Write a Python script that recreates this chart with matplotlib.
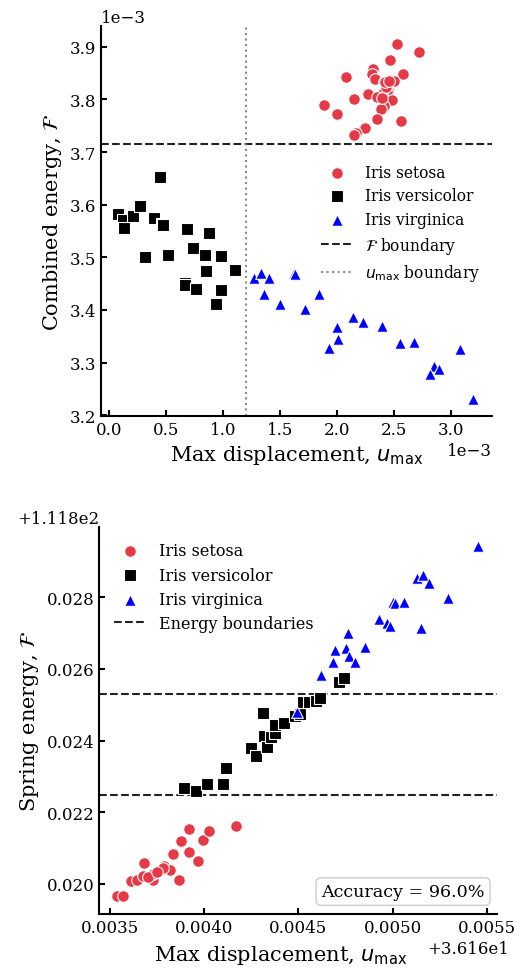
import numpy as np
import matplotlib.pyplot as plt

plt.rcParams['font.family'] = 'serif'
plt.rcParams['font.serif'] = ['DejaVu Serif']

# top panel: max displacement vs combined energy (both in units of 1e-3)
setosa_u = [2.525, 2.724, 2.467, 2.578, 2.315, 2.306, 2.077, 2.335, 2.414, 2.502,
            2.452, 2.440, 2.276, 2.399, 2.355, 2.481, 2.150, 1.889, 2.414, 2.385,
            2.004, 2.350, 2.561, 2.247, 2.165, 2.150, 2.430, 2.420, 2.395, 2.460]
setosa_f = [3.906, 3.891, 3.875, 3.849, 3.857, 3.849, 3.843, 3.839, 3.834, 3.836,
            3.818, 3.814, 3.811, 3.811, 3.805, 3.798, 3.800, 3.790, 3.788, 3.782,
            3.772, 3.763, 3.759, 3.746, 3.737, 3.733, 3.823, 3.834, 3.802, 3.836]
versi_u = [0.447, 0.074, 0.123, 0.132, 0.205, 0.270, 0.396, 0.460, 0.469, 0.314,
           0.516, 0.686, 0.879, 0.733, 0.844, 0.979, 0.850, 1.102, 0.665, 0.665,
           0.762, 0.979, 0.935]
versi_f = [3.653, 3.583, 3.570, 3.555, 3.578, 3.597, 3.575, 3.564, 3.561, 3.500,
           3.504, 3.553, 3.546, 3.517, 3.505, 3.503, 3.474, 3.475, 3.452, 3.447,
           3.440, 3.438, 3.412]
virg_u = [1.272, 1.333, 1.403, 1.623, 1.630, 1.359, 1.500, 1.845, 1.720, 2.144,
          2.232, 1.998, 2.396, 2.012, 1.933, 2.557, 2.680, 3.082, 2.853, 2.894,
          2.818, 3.199]
virg_f = [3.461, 3.471, 3.460, 3.471, 3.469, 3.430, 3.412, 3.430, 3.402, 3.387,
          3.378, 3.368, 3.370, 3.345, 3.327, 3.337, 3.340, 3.325, 3.293, 3.287,
          3.278, 3.231]
f_boundary = 3.716
u_boundary = 1.2

# bottom panel: offsets from 36.16 (displacement) and 111.8 (spring energy)
u_offset = 36.16
f_offset = 111.8
b_setosa_u = [0.003536, 0.003567, 0.003611, 0.003642, 0.003674, 0.003682, 0.003727,
              0.003730, 0.003762, 0.003788, 0.003818, 0.003866, 0.003833, 0.003875,
              0.003877, 0.003919, 0.003919, 0.003969, 0.003992, 0.004025, 0.004169,
              0.003700, 0.003780, 0.003750]
b_setosa_f = [0.019657, 0.019674, 0.020075, 0.020112, 0.020215, 0.020586, 0.020120,
              0.020279, 0.020371, 0.020510, 0.020399, 0.020120, 0.020837, 0.021163,
              0.021208, 0.021534, 0.020884, 0.020650, 0.021236, 0.021470, 0.021626,
              0.020187, 0.020450, 0.020330]
b_versi_u = [0.003894, 0.003955, 0.004013, 0.004101, 0.004116, 0.004247, 0.004275,
             0.004314, 0.004319, 0.004335, 0.004353, 0.004377, 0.004377, 0.004424,
             0.004480, 0.004508, 0.004526, 0.004558, 0.004593, 0.004615, 0.004716,
             0.004744]
b_versi_f = [0.022669, 0.022602, 0.022789, 0.022789, 0.023235, 0.023785, 0.023562,
             0.024761, 0.024136, 0.023813, 0.024091, 0.024203, 0.024435, 0.024490,
             0.024677, 0.024741, 0.025067, 0.025085, 0.025112, 0.025188, 0.025642,
             0.025736]
b_virg_u = [0.005455, 0.005131, 0.005163, 0.005193, 0.005296, 0.005004, 0.005014,
            0.005061, 0.004928, 0.004972, 0.004986, 0.005151, 0.004765, 0.004694,
            0.004753, 0.004855, 0.004682, 0.004770, 0.004800, 0.004622, 0.004491]
b_virg_f = [0.029435, 0.028534, 0.028618, 0.028386, 0.027968, 0.027857, 0.027850,
            0.027874, 0.027391, 0.027280, 0.027187, 0.027140, 0.026992, 0.026535,
            0.026574, 0.026618, 0.026200, 0.026350, 0.026183, 0.025837, 0.024806]
energy_bounds = [0.025303, 0.022491]
accuracy = 96.0

red = '#e63946'
blue = '#0000ff'
kw = dict(edgecolor='white', linewidths=0.8, zorder=3)

fig = plt.figure(figsize=(5.21, 9.7), dpi=100)
ax1 = fig.add_axes([0.1933, 0.5704, 0.7516, 0.402])
ax2 = fig.add_axes([0.1906, 0.0567, 0.7628, 0.3987])

# --- top panel ---
ax1.scatter(np.array(setosa_u) * 1e-3, np.array(setosa_f) * 1e-3, s=70, marker='o',
            color=red, label='Iris setosa', **kw)
ax1.scatter(np.array(versi_u) * 1e-3, np.array(versi_f) * 1e-3, s=70, marker='s',
            color='black', label='Iris versicolor', **kw)
ax1.scatter(np.array(virg_u) * 1e-3, np.array(virg_f) * 1e-3, s=70, marker='^',
            color=blue, label='Iris virginica', **kw)
ax1.axhline(f_boundary * 1e-3, color='#222222', ls='--', lw=1.5, label=r'$\mathcal{F}$ boundary')
ax1.axvline(u_boundary * 1e-3, color='#888888', ls=':', lw=1.5, label=r'$u_{\max}$ boundary')
ax1.set_xlim(-0.076e-3, 3.366e-3)
ax1.set_ylim(3.199e-3, 3.940e-3)
ax1.set_xticks(np.arange(0, 3.01e-3, 0.5e-3))
ax1.set_yticks(np.arange(3.2e-3, 3.91e-3, 0.1e-3))
ax1.ticklabel_format(style='sci', scilimits=(0, 0))
ax1.set_xlabel(r'Max displacement, $u_{\max}$', fontsize=15)
ax1.set_ylabel(r'Combined energy, $\mathcal{F}$', fontsize=15)
ax1.legend(loc='center right', bbox_to_anchor=(1.005, 0.493), frameon=False, fontsize=11.2,
           labelspacing=0.42)

# --- bottom panel ---
ax2.scatter(np.array(b_setosa_u) + u_offset, np.array(b_setosa_f) + f_offset, s=70,
            marker='o', color=red, label='Iris setosa', **kw)
ax2.scatter(np.array(b_versi_u) + u_offset, np.array(b_versi_f) + f_offset, s=70,
            marker='s', color='black', label='Iris versicolor', **kw)
ax2.scatter(np.array(b_virg_u) + u_offset, np.array(b_virg_f) + f_offset, s=70,
            marker='^', color=blue, label='Iris virginica', **kw)
for i, b in enumerate(energy_bounds):
    ax2.axhline(b + f_offset, color='#222222', ls='--', lw=1.5,
                label='Energy boundaries' if i == 0 else None)
ax2.set_xlim(u_offset + 0.003443, u_offset + 0.005553)
ax2.set_ylim(f_offset + 0.01916, f_offset + 0.02995)
ax2.set_xticks(u_offset + np.array([0.0035, 0.0040, 0.0045, 0.0050, 0.0055]))
ax2.set_yticks(f_offset + np.array([0.020, 0.022, 0.024, 0.026, 0.028]))
ax2.xaxis.get_major_formatter().set_useOffset(u_offset)
ax2.yaxis.get_major_formatter().set_useOffset(f_offset)
ax2.set_xlabel(r'Max displacement, $u_{\max}$', fontsize=15)
ax2.xaxis.set_label_coords(0.457, -0.075)
ax2.set_ylabel(r'Spring energy, $\mathcal{F}$', fontsize=15)
ax2.legend(loc='upper left', bbox_to_anchor=(0.002, 0.998), frameon=False, fontsize=11.5,
           labelspacing=0.45)
ax2.text(0.97, 0.036, f'Accuracy = {accuracy:.1f}%', transform=ax2.transAxes,
         ha='right', va='bottom', fontsize=12.6,
         bbox=dict(boxstyle='round,pad=0.3', facecolor='white', edgecolor='#cccccc'))

for ax in (ax1, ax2):
    ax.spines['top'].set_visible(False)
    ax.spines['right'].set_visible(False)
    ax.spines['left'].set_linewidth(1.5)
    ax.spines['bottom'].set_linewidth(1.5)
    ax.tick_params(direction='in', length=4.5, width=1.5, labelsize=12)
    ax.xaxis.get_offset_text().set_fontsize(12)
    ax.yaxis.get_offset_text().set_fontsize(12)

ax2.xaxis.get_offset_text().set_x(1.03)
ax2.yaxis.get_offset_text().set_horizontalalignment('right')

fig.savefig('out.png', dpi=100)
